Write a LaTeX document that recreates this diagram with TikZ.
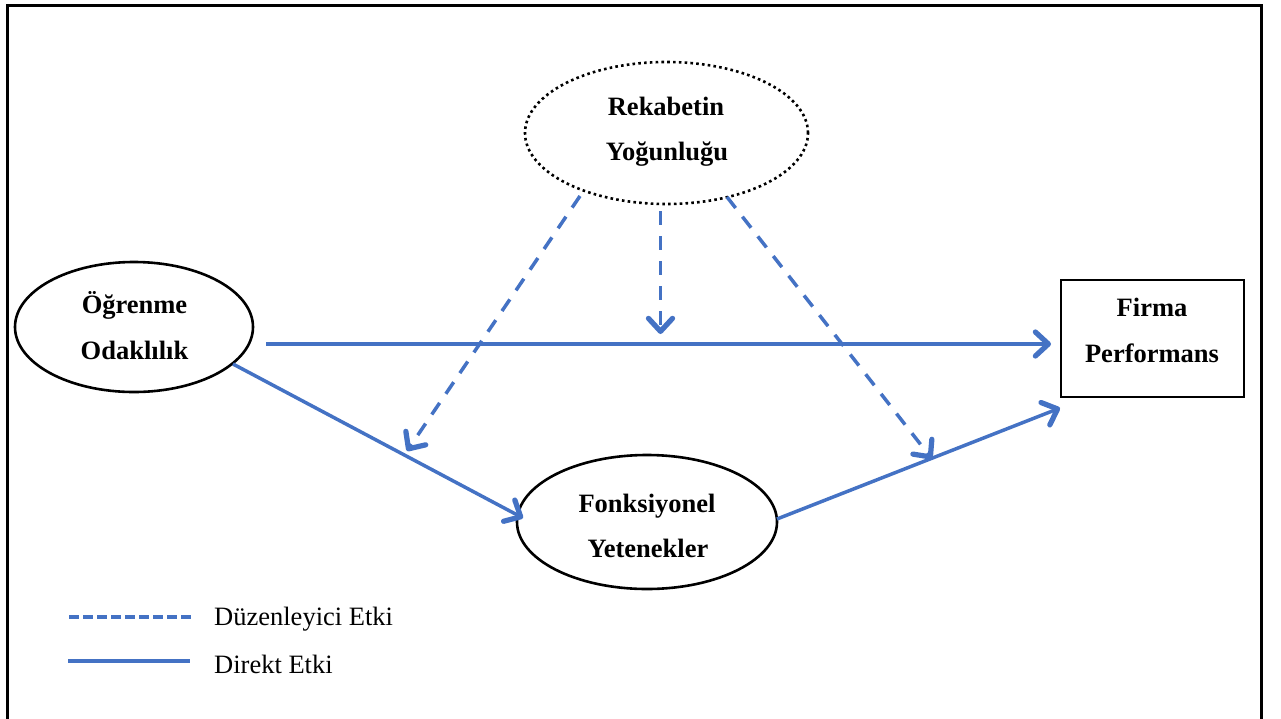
\documentclass[tikz,border=0pt]{standalone}
\usepackage{fontspec}
\setmainfont{Liberation Serif}
\usetikzlibrary{arrows.meta,shapes.geometric}
\definecolor{linkblue}{HTML}{4472C4}
\begin{document}
\begin{tikzpicture}[x=1pt,y=-1pt,
  label text/.style={font=\fontsize{26.5}{32}\selectfont\bfseries, anchor=base, inner sep=0pt},
  legend text/.style={font=\fontsize{26.5}{32}\selectfont, anchor=base west, inner sep=0pt},
  oval/.style={draw, ellipse, line width=2.6pt, inner sep=0pt},
  dotted oval/.style={oval, line width=2.6pt, dash pattern=on 2.6pt off 3.2pt},
  framebox/.style={draw, rectangle, line width=2.6pt, inner sep=0pt},
  direct/.style={draw=linkblue, line width=3.5pt,
    -{Straight Barb[length=13pt,width=24pt,line width=0pt 1.5,round]}},
  moderating/.style={direct, dash pattern=on 14pt off 11pt},
  legend direct/.style={draw=linkblue, line width=4pt},
  legend moderating/.style={legend direct, dash pattern=on 9.5pt off 4.5pt}
]
\useasboundingbox (0,0) rectangle (1281,718);

% outer frame (bottom edge lies below the page)
\draw[line width=3pt] (7,740) -- (7,5) -- (1261.5,5) -- (1261.5,740);

% constructs
\node[dotted oval, minimum width=283pt, minimum height=142pt] (rek) at (666.5,133) {};
\node[label text] (rek1) at (666,115) {Rekabetin};
\node[label text] (rek2) at (667,160) {Yoğunluğu};

\node[oval, minimum width=238pt, minimum height=130pt] (ogr) at (134,327) {};
\node[label text] (ogr1) at (134.5,313) {Öğrenme};
\node[label text] (ogr2) at (134.5,359) {Odaklılık};

\node[oval, minimum width=260pt, minimum height=134pt] (fon) at (647,522) {};
\node[label text] (fon1) at (647,512) {Fonksiyonel};
\node[label text] (fon2) at (648,557) {Yetenekler};

\node[framebox, minimum width=183pt, minimum height=117pt] (firma) at (1152.5,338.5) {};
\node[label text] (firma1) at (1152,316) {Firma};
\node[label text] (firma2) at (1152,362) {Performans};

% connector end points
\coordinate (ogrE) at (266,344);
\coordinate (firmaW) at (1051,344);
\coordinate (ogrSE) at (233,364);
\coordinate (fonW) at (523,518);
\coordinate (fonE) at (777,519);
\coordinate (firmaSW) at (1060,408);
\coordinate (rekL) at (580,196);
\coordinate (rekM) at (660.5,211);
\coordinate (rekR) at (727,197);
\coordinate (modL) at (407,451);
\coordinate (modM) at (660.5,334);
\coordinate (modR) at (932,459);

% direct effects
\draw[direct] (ogrE) -- (firmaW);
\draw[direct] (ogrSE) -- (fonW);
\draw[direct] (fonE) -- (firmaSW);

% moderating effects
\draw[moderating] (rekL) -- (modL);
\draw[moderating] (rekM) -- (modM);
\draw[moderating] (rekR) -- (modR);

% legend
\coordinate (lg1a) at (69,617);
\coordinate (lg1b) at (192,617);
\coordinate (lg2a) at (68,661);
\coordinate (lg2b) at (190,661);
\draw[legend moderating] (lg1a) -- (lg1b);
\draw[legend direct] (lg2a) -- (lg2b);
\node[legend text] (leg1) at (214,625) {Düzenleyici Etki};
\node[legend text] (leg2) at (214,673) {Direkt Etki};
\end{tikzpicture}
\end{document}
